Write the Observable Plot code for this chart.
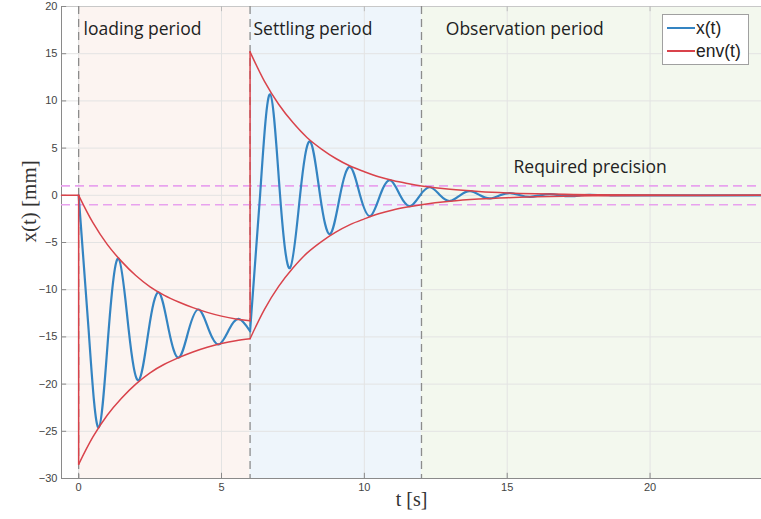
<!DOCTYPE html>
<html>
<head>
<meta charset="utf-8">
<script src="https://cdn.jsdelivr.net/npm/d3@7"></script>
<script src="https://cdn.jsdelivr.net/npm/@observablehq/plot@0.6"></script>
<style>
  body { margin: 0; background: #fff; }
  #wrap { position: relative; width: 761px; height: 519px; overflow: hidden; }
  .legend { position: absolute; left: 662px; top: 14px; width: 87px; height: 51px;
            border: 1px solid #a0a0a0; background: #fff; box-sizing: border-box;
            font-family: "Liberation Sans", Arial, sans-serif; font-size: 17.5px; color: #222; }
  .legend .row { position: absolute; left: 4px; height: 22px; display: flex; align-items: center; }
  .legend .sw { width: 28px; height: 0; border-top: 2px solid; margin-right: 1px; }
</style>
</head>
<body>
<div id="wrap"></div>
<script>
// ---- data ----
const xTicks = [0, 5, 10, 15, 20];
const yTicks = [-30, -25, -20, -15, -10, -5, 0, 5, 10, 15, 20];
const periodNames = ["loading period", "Settling period", "Observation period"];
const periodStart = [0, 6, 12];
const periodEnd = [6, 12, 23.9];
const periodColor = ["#fcf4f1", "#eef5fb", "#f3f8ee"];
const precision = [-1, 1];
const precisionLabel = "Required precision";

// envelope during loading
const tEnvLoad = [0, 0.5, 1, 1.5, 2, 2.5, 3, 3.5, 4, 4.5, 5, 5.5, 6];
const envUpperLoad = [0, -2.9, -5.2, -7.0, -8.5, -9.7, -10.6, -11.3, -11.9, -12.4, -12.8, -13.1, -13.3];
const envLowerLoad = [-28.5, -25.6, -23.3, -21.5, -20.0, -18.8, -17.9, -17.2, -16.6, -16.1, -15.7, -15.4, -15.2];
// envelope during settling / observation
const tEnvSettle = [6, 6.5, 7, 7.5, 8, 8.5, 9, 9.5, 10, 10.5, 11, 11.5, 12, 13, 14, 15, 16, 17, 18, 20, 23.9];
const envUpperSettle = [15.2, 12.1, 9.65, 7.7, 6.1, 4.9, 3.9, 3.1, 2.5, 1.96, 1.56, 1.25, 0.99, 0.63, 0.40, 0.25, 0.16, 0.10, 0.06, 0.03, 0];
const envLowerSettle = [-15.2, -12.1, -9.65, -7.7, -6.1, -4.9, -3.9, -3.1, -2.5, -1.96, -1.56, -1.25, -0.99, -0.63, -0.40, -0.25, -0.16, -0.10, -0.06, -0.03, 0];

// response x(t) during loading
const tXLoad = [0, 0.35, 0.7, 1.05, 1.4, 1.75, 2.1, 2.45, 2.8, 3.15, 3.5, 3.85, 4.2, 4.55, 4.9, 5.25, 5.6, 6.0];
const xLoad = [0, -14.3, -24.6, -14.3, -6.7, -14.2, -19.6, -14.3, -10.3, -14.2, -17.2, -14.3, -12.1, -14.2, -15.8, -14.3, -13.1, -14.4];
// response x(t) during settling / observation
const tXSettle = [6.0, 6.35, 6.7, 7.05, 7.4, 7.75, 8.1, 8.45, 8.8, 9.15, 9.5, 9.85, 10.2, 10.55, 10.9, 11.25, 11.6, 11.95,
                  12.3, 12.65, 13.0, 13.35, 13.7, 14.05, 14.4, 14.75, 15.1, 15.45, 15.8, 16.15, 16.5, 16.85, 17.2,
                  17.55, 17.9, 18.6, 19.5, 23.9];
const xSettle = [-14.4, 0, 10.7, 0, -7.7, 0, 5.7, 0, -4.1, 0, 3.0, 0, -2.2, 0, 1.6, 0, -1.15, 0,
                 0.85, 0, -0.6, 0, 0.45, 0, -0.33, 0, 0.24, 0, -0.17, 0, 0.12, 0, -0.09,
                 0, 0.06, 0, 0, 0];

// ---- tables ----
const xMin = -0.6, xMax = 23.9, yMin = -30, yMax = 20;
const periods = periodNames.map((name, i) => ({name, start: periodStart[i], end: periodEnd[i], color: periodColor[i]}));
const xRows = [
  ...tXLoad.map((t, i) => ({t, x: xLoad[i], seg: "load"})),
  ...tXSettle.map((t, i) => ({t, x: xSettle[i], seg: "settle"}))
];
const envRows = [];
envRows.push({t: xMin, v: 0, seg: "pre"}, {t: 0, v: 0, seg: "pre"});
envRows.push({t: 0, v: envUpperLoad[0], seg: "jump0"}, {t: 0, v: envLowerLoad[0], seg: "jump0"});
tEnvLoad.forEach((t, i) => envRows.push({t, v: envUpperLoad[i], seg: "loadU"}));
tEnvLoad.forEach((t, i) => envRows.push({t, v: envLowerLoad[i], seg: "loadL"}));
envRows.push({t: 6, v: envUpperLoad[envUpperLoad.length - 1], seg: "jump6"}, {t: 6, v: envUpperSettle[0], seg: "jump6"});
tEnvSettle.forEach((t, i) => envRows.push({t, v: envUpperSettle[i], seg: "setU"}));
tEnvSettle.forEach((t, i) => envRows.push({t, v: envLowerSettle[i], seg: "setL"}));

const labelOffset = [0.17, 0.12, 0.85];
const sans = "'Liberation Sans', Arial, sans-serif";
const serif = "'Liberation Serif', 'Times New Roman', serif";
const labelFont = "'Open Sans', 'Noto Sans', sans-serif";

const chart = Plot.plot({
  width: 761, height: 519,
  marginLeft: 61, marginRight: 0, marginTop: 6, marginBottom: 41,
  x: {domain: [xMin, xMax]},
  y: {domain: [yMin, yMax]},
  color: {type: "identity"},
  style: {background: "transparent", fontFamily: sans, overflow: "visible"},
  marks: [
    Plot.rect(periods, {x1: "start", x2: "end", y1: yMin, y2: yMax, fill: "color"}),
    Plot.ruleX(xTicks, {stroke: "#e3e3e3", strokeWidth: 1}),
    Plot.ruleY(yTicks, {stroke: "#e3e3e3", strokeWidth: 1}),
    Plot.ruleY([yMax], {stroke: "#c8c8c8"}),
    Plot.ruleY([yMin], {stroke: "#8a8a8a"}),
    Plot.ruleX([xMin], {stroke: "#8a8a8a"}),
    Plot.ruleX(xTicks, {y1: yMin, y2: yMin + 0.55, stroke: "#8a8a8a"}),
    Plot.ruleX(xTicks, {y1: yMax - 0.55, y2: yMax, stroke: "#bbb"}),
    Plot.ruleY(yTicks, {x1: xMin, x2: xMin + 0.18, stroke: "#8a8a8a"}),
    Plot.ruleX(periodStart, {stroke: "#8c8c8c", strokeWidth: 1.3, strokeDasharray: "8,5"}),
    Plot.ruleY(precision, {stroke: "#e8a2ee", strokeWidth: 1.6, strokeDasharray: "9,5"}),
    Plot.line(xRows, {x: "t", y: "x", z: "seg", stroke: "#3484c2", strokeWidth: 2.2, curve: "natural"}),
    Plot.line(envRows, {x: "t", y: "v", z: "seg", stroke: "#d9434b", strokeWidth: 1.5, curve: "catmull-rom"}),
    Plot.text(periods, {x: (d, i) => d.start + labelOffset[i], text: "name", frameAnchor: "top", dy: 16,
      textAnchor: "start", fontSize: 17.5, fontFamily: labelFont, fill: "#222"}),
    Plot.text([precisionLabel], {x: periodStart[2] + 3.22, y: precision[1] + 2, text: d => d, textAnchor: "start",
      fontSize: 17.5, fontFamily: labelFont, fill: "#222"}),
    Plot.axisX(xTicks, {tickSize: 0, tickPadding: 5, fontSize: 11, color: "#444", label: null}),
    Plot.axisY(yTicks, {tickSize: 0, tickPadding: 4, fontSize: 11, color: "#444", label: null}),
    Plot.text(["x(t) [mm]"], {text: d => d, frameAnchor: "left", dx: -32, rotate: -90, fontSize: 21,
      fontFamily: serif, fill: "#333"}),
    Plot.text(["t [s]"], {text: d => d, frameAnchor: "bottom", dy: 27, fontSize: 20, fontFamily: serif, fill: "#333"})
  ]
});

const wrap = document.getElementById("wrap");
wrap.appendChild(chart);
const legend = document.createElement("div");
legend.className = "legend";
legend.innerHTML = `<div class="row" style="top:2px"><span class="sw" style="border-color:#3484c2"></span>x(t)</div>
<div class="row" style="top:25px"><span class="sw" style="border-color:#d9434b"></span>env(t)</div>`;
wrap.appendChild(legend);
</script>
</body>
</html>
